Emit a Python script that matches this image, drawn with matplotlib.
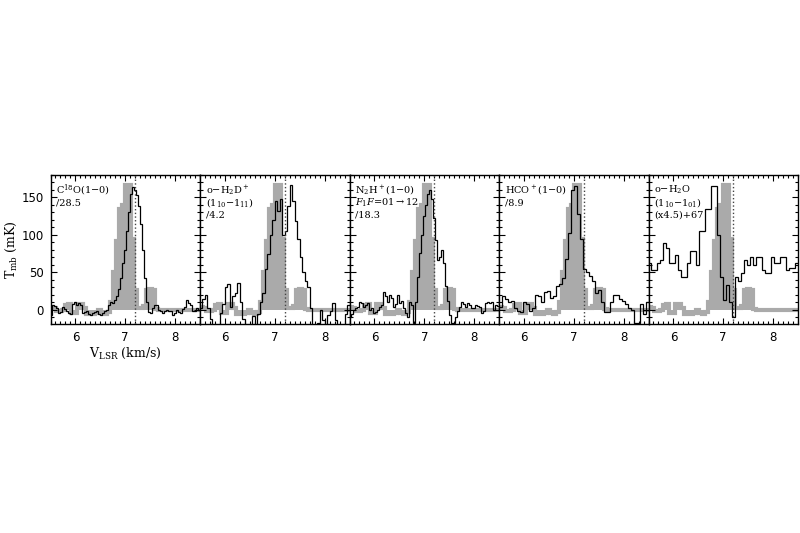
import numpy as np
import matplotlib
matplotlib.use("Agg")
import matplotlib.pyplot as plt
from matplotlib.ticker import MultipleLocator

plt.rcParams['font.family'] = ['DejaVu Serif']
plt.rcParams['mathtext.fontset'] = 'dejavuserif'

V_SYS = 7.2

# gray reference spectrum (0.06 km/s channels from 5.50)
GRAY_V0, GRAY_DV = 5.50, 0.06
gray = [4, 3, -2, -2, 0, 6, 8, -4, -4, 8,
        8, 2, -5, -5, -6, -4, 0, -4, -6, -3,
        10, 50, 92, 135, 140, 166, 166, 95, 27, 3,
        3, 5, 27, 28, 27, 1, 0, 0, 0, 0,
        0, 0, 0, 0, 0, 0, 0, 0, 0, 0]

# C18O(1-0), 0.04 km/s channels
c18o_v0, c18o_dv = 5.50, 0.04
c18o = [-7, 7, 5, 2, -4, -3, 4, 1, -2, -4,
        -5, 8, 11, 7, 9, 6, -4, -3, -2, -6,
        -7, -4, -3, -2, -6, -7, -4, -2, 0, 6,
        10, 9, 13, 18, 28, 42, 62, 80, 105, 130,
        155, 164, 160, 153, 138, 115, 80, 42, 10, -3,
        -4, 3, 6, 7, 0, -2, -4, -2, 0, -1,
        -2, -7, -4, 0, -3, -4, 1, 4, 13, 9,
        7, -2, -1, 2, 0]

# o-H2D+, 0.05 km/s channels
h2d_v0, h2d_dv = 5.50, 0.05
h2d = [2, 14, 20, 2, -12, -20, -22, -22, -4, 8,
       30, 34, 4, 18, 22, 36, 10, -12, -22, -22,
       -22, -8, -22, -6, 10, 22, 55, 75, 100, 120,
       145, 132, 148, 100, 105, 138, 166, 145, 118, 95,
       70, 50, 38, 30, 2, -20, -20, -18, 0, -13,
       -20, -7, -2, 9, -13, -20, -20, -20, -5, 6]

# N2H+(1-0), 0.04 km/s channels
n2h_v0, n2h_dv = 5.50, 0.04
n2h = [-9, -6, 0, 2, 4, 11, 9, 4, 6, 9,
       0, 2, -4, -3, 0, 4, 6, 24, 18, 11,
       20, 16, 4, 8, 20, 9, 12, 2, -4, -9,
       11, 6, -18, 10, 44, 76, 100, 125, 140, 155,
       160, 148, 122, 93, 67, 70, 80, 62, 32, 12,
       -7, -18, -18, -9, -2, 4, 11, 8, 4, 9,
       6, 2, 3, 7, 5, 4, -4, -2, 9, 11,
       9, 11, 0, 7, 5]

# HCO+(1-0), 0.06 km/s channels
hco_v0, hco_dv = 5.50, 0.06
hco = [4, 18, 14, 10, 12, 2, -2, -3, 10, 8,
       -2, 2, 20, 18, 10, 24, 25, 16, 18, 32,
       35, 42, 68, 102, 160, 165, 128, 95, 55, 50,
       45, 38, 22, 27, 10, -3, -3, 10, 20, 20,
       15, 12, 8, 3, 0, -18, -18, 8, -5, 10]

# o-H2O, 0.06 km/s channels, (x4.5)+67
h2o_v0, h2o_dv = 5.50, 0.06
h2o = [62, 53, 53, 62, 67, 89, 82, 62, 62, 73,
       53, 44, 44, 62, 78, 78, 60, 105, 105, 134,
       134, 165, 165, 100, 44, 13, 33, 11, -9, 44,
       38, 49, 67, 60, 71, 60, 71, 71, 53, 49,
       49, 71, 62, 62, 71, 71, 53, 56, 56, 62]

labels = [
    [r"C$^{18}$O(1$-$0)", "/28.5"],
    [r"o$-$H$_2$D$^+$", r"(1$_{10}$$-$1$_{11}$)", "/4.2"],
    [r"N$_2$H$^+$(1$-$0)", r"$F_1F$=01$\rightarrow$12", "/18.3"],
    [r"HCO$^+$(1$-$0)", "/8.9"],
    [r"o$-$H$_2$O", r"(1$_{10}$$-$1$_{01}$)", "(x4.5)+67"],
]
spectra = [(c18o_v0, c18o_dv, c18o), (h2d_v0, h2d_dv, h2d),
           (n2h_v0, n2h_dv, n2h), (hco_v0, hco_dv, hco),
           (h2o_v0, h2o_dv, h2o)]


def edges(v0, dv, vals):
    return v0 + dv * np.arange(len(vals) + 1)


fig = plt.figure(figsize=(8, 5.33), dpi=100)

left, bottom, width, height = 50.5 / 800, 1 - 324 / 533, 149.5 / 800, 149 / 533
gray_edges = edges(GRAY_V0, GRAY_DV, gray)

for i, (spec, lab) in enumerate(zip(spectra, labels)):
    ax = fig.add_axes([left + i * width, bottom, width, height])
    ax.stairs(gray, gray_edges, fill=True, baseline=0, color='#aaaaaa', lw=0, zorder=1)
    ax.stairs(gray, gray_edges, baseline=None, color='#aaaaaa', lw=3, zorder=1)
    v0, dv, vals = spec
    ax.stairs(vals, edges(v0, dv, vals), baseline=None, color='black', lw=0.9, zorder=3)
    ax.axvline(V_SYS, color='#444444', ls=':', lw=1, zorder=4)

    ax.set_xlim(5.5, 8.5)
    ax.set_ylim(-19, 180)
    ax.xaxis.set_major_locator(MultipleLocator(1))
    ax.xaxis.set_minor_locator(MultipleLocator(0.1))
    ax.yaxis.set_major_locator(MultipleLocator(50))
    ax.yaxis.set_minor_locator(MultipleLocator(10))
    ax.tick_params(which='both', direction='in', top=True, right=True, width=0.8,
                   labelsize=8.5, labelfontfamily='DejaVu Sans')
    ax.tick_params(which='major', length=4, pad=5)
    ax.tick_params(which='minor', length=2)
    for s in ax.spines.values():
        s.set_linewidth(1.0)
    if i > 0:
        ax.set_yticklabels([])
    else:
        ax.set_ylabel(r"T$_{\rm mb}$ (mK)", fontsize=9, labelpad=2)
        ax.set_xlabel(r"V$_{\rm LSR}$ (km/s)", fontsize=9, labelpad=1)

    for j, line in enumerate(lab):
        ax.text(0.04, 0.9 - 0.085 * j, line, transform=ax.transAxes,
                fontsize=7, ha='left', va='center', zorder=5)

fig.savefig("out.png", dpi=100)
